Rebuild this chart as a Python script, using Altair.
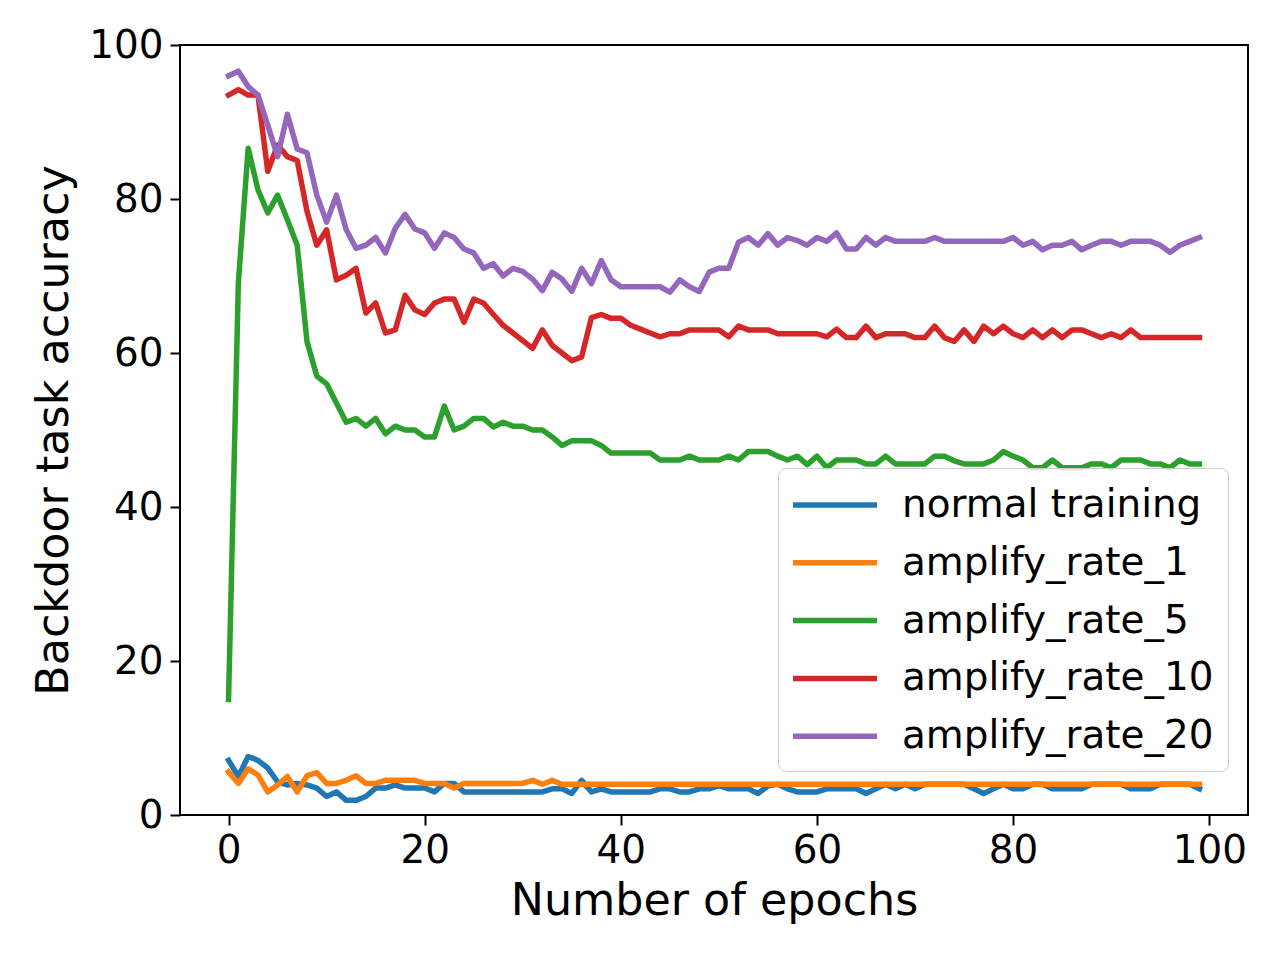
import altair as alt
import pandas as pd

epochs = list(range(100))

series_names = ["normal training", "amplify_rate_1", "amplify_rate_5",
                "amplify_rate_10", "amplify_rate_20"]
series_colors = ["#1f77b4", "#ff7f0e", "#2ca02c", "#d62728", "#9467bd"]

normal_training = [
    7.1, 5.0, 7.6, 7.1, 6.1, 4.3, 3.9, 4.1, 3.9, 3.5,
    2.4, 3.0, 1.9, 1.9, 2.4, 3.5, 3.5, 3.9, 3.5, 3.5,
    3.5, 3.0, 4.1, 4.1, 3.0, 3.0, 3.0, 3.0, 3.0, 3.0,
    3.0, 3.0, 3.0, 3.4, 3.4, 2.8, 4.5, 3.0, 3.4, 3.0,
    3.0, 3.0, 3.0, 3.0, 3.4, 3.4, 3.0, 3.0, 3.4, 3.4,
    3.8, 3.4, 3.4, 3.4, 2.8, 3.8, 4.0, 3.4, 3.0, 3.0,
    3.0, 3.4, 3.4, 3.4, 3.4, 2.8, 3.4, 4.0, 3.4, 4.0,
    3.4, 4.0, 4.0, 4.0, 4.0, 4.0, 3.4, 2.8, 3.4, 4.0,
    3.4, 3.4, 4.0, 4.0, 3.4, 3.4, 3.4, 3.4, 4.0, 4.0,
    4.0, 4.0, 3.4, 3.4, 3.4, 4.0, 4.0, 4.0, 4.0, 3.4,
]

amplify_rate_1 = [
    5.6, 4.1, 6.0, 5.2, 3.0, 3.9, 5.0, 3.0, 5.1, 5.5,
    4.1, 4.1, 4.5, 5.1, 4.1, 4.1, 4.5, 4.5, 4.5, 4.5,
    4.1, 4.1, 4.1, 3.5, 4.1, 4.1, 4.1, 4.1, 4.1, 4.1,
    4.1, 4.5, 4.0, 4.5, 4.0, 4.0, 4.0, 4.0, 4.0, 4.0,
    4.0, 4.0, 4.0, 4.0, 4.0, 4.0, 4.0, 4.0, 4.0, 4.0,
    4.0, 4.0, 4.0, 4.0, 4.0, 4.0, 4.0, 4.0, 4.0, 4.0,
    4.0, 4.0, 4.0, 4.0, 4.0, 4.0, 4.0, 4.0, 4.0, 4.0,
    4.0, 4.0, 4.0, 4.0, 4.0, 4.0, 4.0, 4.0, 4.0, 4.0,
    4.0, 4.0, 4.0, 4.0, 4.0, 4.0, 4.0, 4.0, 4.0, 4.0,
    4.0, 4.0, 4.0, 4.0, 4.0, 4.0, 4.0, 4.0, 4.0, 4.0,
]

amplify_rate_5 = [
    15.0, 69.1, 86.6, 81.2, 78.2, 80.5, 77.3, 74.0, 61.5, 57.0,
    56.0, 53.5, 51.0, 51.5, 50.5, 51.5, 49.5, 50.5, 50.0, 50.0,
    49.1, 49.1, 53.1, 50.0, 50.5, 51.5, 51.5, 50.4, 51.0, 50.5,
    50.5, 50.0, 50.0, 49.1, 48.0, 48.6, 48.6, 48.6, 48.0, 47.0,
    47.0, 47.0, 47.0, 47.0, 46.1, 46.1, 46.1, 46.6, 46.1, 46.1,
    46.1, 46.6, 46.1, 47.2, 47.2, 47.2, 46.6, 46.1, 46.6, 45.5,
    46.6, 45.1, 46.1, 46.1, 46.1, 45.6, 45.6, 46.6, 45.6, 45.6,
    45.6, 45.6, 46.6, 46.6, 46.0, 45.6, 45.6, 45.6, 46.1, 47.2,
    46.6, 46.1, 45.1, 45.1, 46.1, 45.1, 45.1, 45.1, 45.6, 45.6,
    45.1, 46.1, 46.1, 46.1, 45.6, 45.6, 45.1, 46.1, 45.6, 45.6,
]

amplify_rate_10 = [
    93.5, 94.2, 93.5, 93.5, 83.6, 87.0, 85.5, 85.0, 78.4, 74.0,
    76.0, 69.5, 70.1, 71.0, 65.2, 66.5, 62.6, 63.0, 67.5, 65.6,
    65.0, 66.5, 67.0, 67.0, 64.0, 67.0, 66.5, 65.0, 63.6, 62.6,
    61.6, 60.6, 63.0, 61.0, 60.0, 59.0, 59.5, 64.6, 65.0, 64.5,
    64.5, 63.6, 63.1, 62.6, 62.1, 62.5, 62.5, 63.0, 63.0, 63.0,
    63.0, 62.1, 63.5, 63.0, 63.0, 63.0, 62.5, 62.5, 62.5, 62.5,
    62.5, 62.1, 63.1, 62.0, 62.0, 63.5, 62.0, 62.5, 62.5, 62.5,
    62.0, 62.0, 63.5, 62.0, 61.5, 63.0, 61.5, 63.5, 62.5, 63.5,
    62.5, 62.0, 63.0, 62.0, 63.0, 62.0, 63.0, 63.0, 62.5, 62.0,
    62.5, 62.0, 63.0, 62.0, 62.0, 62.0, 62.0, 62.0, 62.0, 62.0,
]

amplify_rate_20 = [
    96.0, 96.6, 94.6, 93.5, 89.6, 85.5, 91.0, 86.5, 86.0, 80.5,
    77.0, 80.5, 76.0, 73.6, 74.0, 75.0, 73.0, 76.2, 78.0, 76.1,
    75.6, 73.6, 75.6, 75.0, 73.5, 73.0, 71.0, 71.6, 70.0, 71.0,
    70.6, 69.6, 68.1, 70.5, 69.6, 68.0, 71.0, 69.0, 72.0, 69.5,
    68.6, 68.6, 68.6, 68.6, 68.6, 67.9, 69.5, 68.6, 68.0, 70.5,
    71.0, 71.0, 74.4, 75.0, 74.0, 75.5, 74.0, 75.0, 74.6, 74.0,
    75.0, 74.5, 75.6, 73.5, 73.5, 75.0, 74.0, 75.0, 74.5, 74.5,
    74.5, 74.5, 75.0, 74.5, 74.5, 74.5, 74.5, 74.5, 74.5, 74.5,
    75.0, 74.0, 74.5, 73.4, 74.0, 74.0, 74.5, 73.4, 74.0, 74.5,
    74.5, 74.0, 74.5, 74.5, 74.5, 74.0, 73.1, 74.0, 74.5, 75.0,
]

all_series = [normal_training, amplify_rate_1, amplify_rate_5,
              amplify_rate_10, amplify_rate_20]

rows = []
for order, (name, vals) in enumerate(zip(series_names, all_series)):
    for e, v in zip(epochs, vals):
        rows.append({"epoch": e, "acc": v, "series": name, "order": order})
df = pd.DataFrame(rows)

FONT = "DejaVu Sans"
TICK_FS = 38.9
TITLE_FS = 44.4

chart = alt.Chart(df).mark_line(
    strokeWidth=5.5, strokeJoin="round", strokeCap="square"
).encode(
    x=alt.X("epoch:Q",
            scale=alt.Scale(domain=[-4.95, 103.95], nice=False, zero=False),
            axis=alt.Axis(values=[0, 20, 40, 60, 80, 100], title="Number of epochs",
                          format="d", grid=False, tickSize=10, tickWidth=2,
                          tickColor="black", domain=False,
                          labelFontSize=TICK_FS, titleFontSize=TITLE_FS,
                          labelPadding=6, titlePadding=10,
                          labelColor="black", titleColor="black",
                          titleFontWeight="normal", labelFlush=False)),
    y=alt.Y("acc:Q",
            scale=alt.Scale(domain=[0, 100], nice=False),
            axis=alt.Axis(values=[0, 20, 40, 60, 80, 100], title="Backdoor task accuracy",
                          format="d", grid=False, tickSize=10, tickWidth=2,
                          tickColor="black", domain=False,
                          labelFontSize=TICK_FS, titleFontSize=TITLE_FS,
                          labelPadding=7, titlePadding=12,
                          labelColor="black", titleColor="black",
                          titleFontWeight="normal", labelFlush=False)),
    color=alt.Color("series:N",
                    scale=alt.Scale(domain=series_names, range=series_colors),
                    sort=series_names,
                    legend=alt.Legend(
                        title=None, orient="none", legendX=598, legendY=423,
                        symbolType="M-2.1,0H2.1", symbolSize=1600,
                        symbolStrokeWidth=5.5, symbolOffset=20,
                        labelFontSize=TICK_FS, labelColor="black", labelFont=FONT,
                        labelLimit=1000, labelOffset=44, rowPadding=14.8,
                        padding=14,
                        fillColor="rgba(255,255,255,0.8)", strokeColor="#cccccc",
                        cornerRadius=8)),
    order=alt.Order("order:Q"),
).properties(
    width=1068, height=770,
    autosize=alt.AutoSizeParams(type="none"),
    padding={"left": 172, "top": 37, "right": 24, "bottom": 137},
).configure(
    font=FONT,
).configure_view(
    stroke="black", strokeWidth=2,
).configure_axis(
    labelFont=FONT, titleFont=FONT,
)

chart.save("out.html", embed_options={"renderer": "svg", "actions": False})
